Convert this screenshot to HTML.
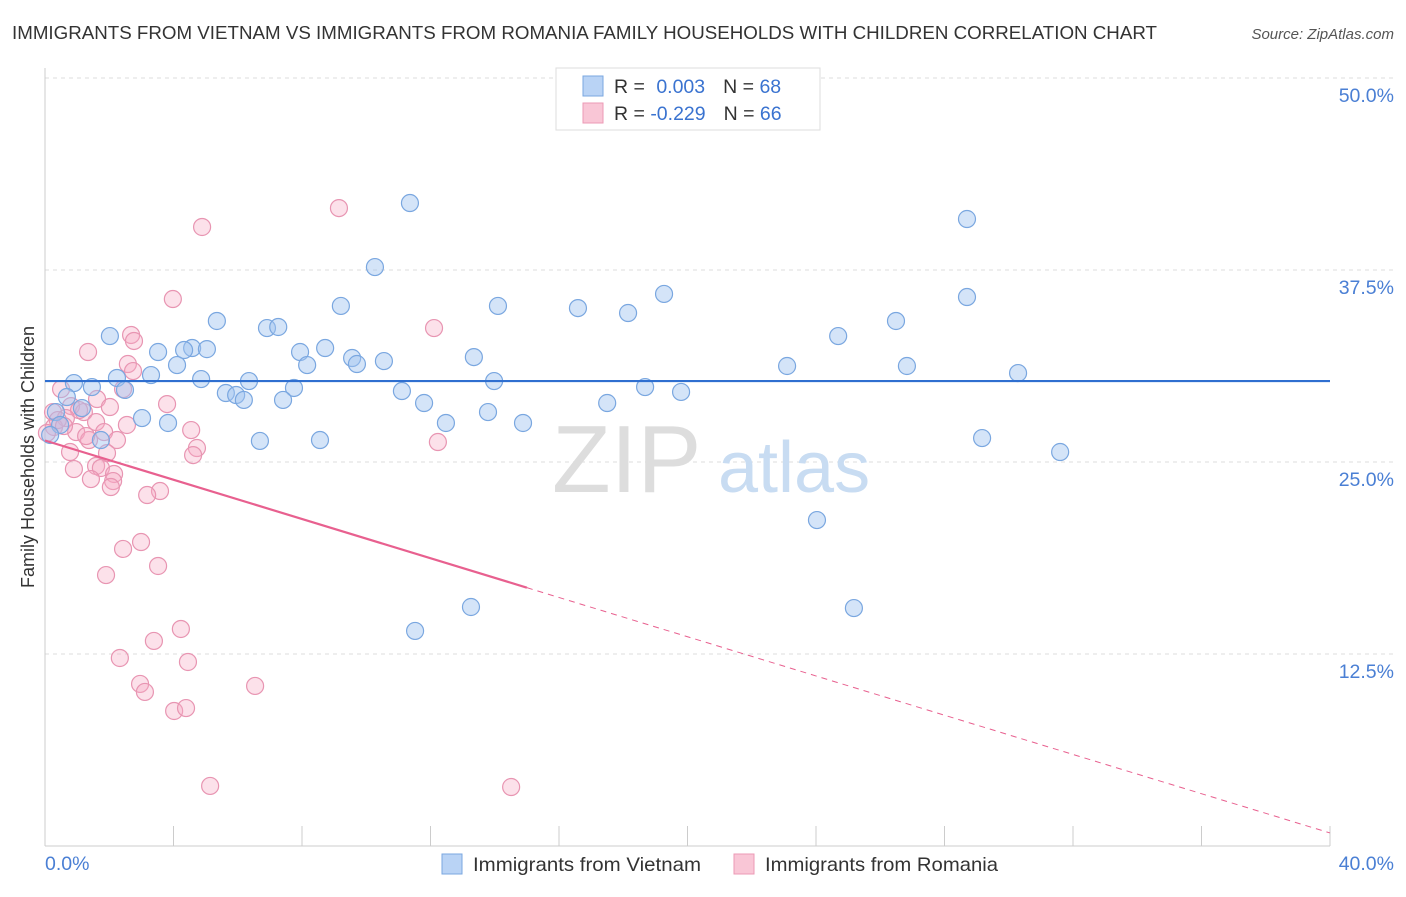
<!DOCTYPE html>
<html><head><meta charset="utf-8">
<style>
body{margin:0;background:#fff;font-family:"Liberation Sans",sans-serif;}
svg text{font-family:"Liberation Sans",sans-serif;}
</style></head>
<body>
<svg id="chart" width="1406" height="892" xmlns="http://www.w3.org/2000/svg">
<text x="12" y="39" font-size="18.5" textLength="1145" lengthAdjust="spacingAndGlyphs" fill="#333">IMMIGRANTS FROM VIETNAM VS IMMIGRANTS FROM ROMANIA FAMILY HOUSEHOLDS WITH CHILDREN CORRELATION CHART</text>
<text x="1394" y="39" font-size="15" fill="#555" font-style="italic" text-anchor="end">Source: ZipAtlas.com</text>
<g id="grid"></g>
<g>
<text x="552" y="492" font-size="96" font-family="Liberation Serif" fill="#ddd">ZIP</text>
<text x="718" y="492" font-size="72" fill="#c8dcf2">atlas</text>
</g>
<line x1="45" y1="68" x2="45" y2="846" stroke="#ccc"/>
<line x1="45" y1="846" x2="1330" y2="846" stroke="#ccc"/>
<g id="xticks"></g>
<g id="yticks"></g>
<text x="45" y="870" font-size="19.5" fill="#4a7fd4">0.0%</text>
<text x="1394" y="870" font-size="19.5" fill="#4a7fd4" text-anchor="end">40.0%</text>
<text transform="translate(34,457) rotate(-90)" font-size="18" fill="#333" text-anchor="middle">Family Households with Children</text>
<g id="pink"></g>
<g id="blue"></g>
<g id="trends"></g>
<g>
<rect x="556" y="68" width="264" height="62" fill="#fff" stroke="#ddd"/>
<rect x="583" y="76" width="20" height="20" fill="#b9d3f5" stroke="#7aa7e0"/>
<rect x="583" y="103" width="20" height="20" fill="#f9c6d6" stroke="#ec9ab5"/>
<text x="614" y="93" font-size="19.5" fill="#333">R = <tspan fill="#3a73d0" dx="6">0.003</tspan><tspan dx="18" fill="#333">N = </tspan><tspan fill="#3a73d0">68</tspan></text>
<text x="614" y="120" font-size="19.5" fill="#333">R = <tspan fill="#3a73d0" dx="0">-0.229</tspan><tspan dx="18" fill="#333">N = </tspan><tspan fill="#3a73d0">66</tspan></text>
</g>
<g>
<rect x="442" y="854" width="20" height="20" fill="#b9d3f5" stroke="#7aa7e0"/>
<text x="473" y="871" font-size="19.5" textLength="228" lengthAdjust="spacingAndGlyphs" fill="#333">Immigrants from Vietnam</text>
<rect x="734" y="854" width="20" height="20" fill="#f9c6d6" stroke="#ec9ab5"/>
<text x="765" y="871" font-size="19.5" textLength="233" lengthAdjust="spacingAndGlyphs" fill="#333">Immigrants from Romania</text>
</g>
</svg>
<script>
const yTicks=[12.5,25,37.5,50];
const yTickLabels=["12.5%","25.0%","37.5%","50.0%"];
const xTickValues=[0,4,8,12,16,20,24,28,32,36,40];
const vietnamX=[11.36,28.70,10.27,19.27,28.70,9.21,14.10,16.59,18.15,5.35,26.49,2.02,6.91,7.26,24.69,3.52,4.58,5.04,4.33,8.72,7.94,9.56,9.71,10.55,13.35,8.16,4.11,23.10,26.83,3.30,2.24,4.86,6.35,30.29,0.90,1.46,2.49,13.98,18.68,19.80,7.75,5.63,5.95,6.19,7.41,11.11,11.80,17.50,13.79,0.68,1.15,0.34,3.02,3.83,12.48,14.88,1.74,6.69,8.56,29.17,31.60,24.03,13.26,25.18,11.52,0.47,0.16];
const vietnamY=[41.86,40.82,37.69,35.94,35.74,35.16,35.16,35.02,34.70,34.18,34.18,33.20,33.72,33.79,33.20,32.16,32.42,32.35,32.29,32.42,32.16,31.77,31.38,31.57,31.83,31.31,31.31,31.25,31.25,30.66,30.47,30.40,30.27,30.79,30.14,29.88,29.69,30.27,29.88,29.56,29.82,29.49,29.36,29.04,29.04,29.62,28.84,28.84,28.25,29.23,28.51,28.25,27.86,27.54,27.54,27.54,26.43,26.37,26.43,26.56,25.65,21.22,15.56,15.49,14.00,27.41,26.76];
const romaniaX=[9.15,4.89,3.98,12.11,2.68,2.77,1.34,2.58,2.74,2.43,0.50,1.62,0.81,2.02,3.80,1.21,1.06,0.25,0.65,1.59,2.55,0.28,0.97,1.84,4.55,0.06,2.24,1.37,1.28,12.23,4.73,0.78,1.93,4.61,1.59,1.74,0.90,2.15,1.43,2.12,2.05,3.58,3.18,2.99,2.43,3.52,1.90,3.39,4.23,2.33,4.45,6.54,2.96,3.11,4.02,4.39,5.14,14.51,0.40,0.59];
const romaniaY=[41.53,40.30,35.61,33.72,33.27,32.88,32.16,31.38,30.92,29.75,29.75,29.10,28.64,28.58,28.77,28.25,28.38,28.25,27.86,27.60,27.41,27.28,26.95,26.95,27.08,26.89,26.43,26.43,26.69,26.30,25.91,25.65,25.58,25.45,24.74,24.61,24.54,24.22,23.89,23.76,23.37,23.11,22.85,19.79,19.34,18.23,17.64,13.35,14.13,12.24,11.98,10.42,10.55,10.03,8.79,8.98,3.91,3.84,27.73,27.34];
const vietnamTrend=[30.27,30.27];
const romaniaTrend=[26.4,0.85];
const romaniaSolidEnd=15.0;

const NS="http://www.w3.org/2000/svg";
const X=v=>45+v/40*1285;
const Y=v=>846-v/12.5*192;
function mk(tag,attrs,parent){const e=document.createElementNS(NS,tag);for(const k in attrs)e.setAttribute(k,attrs[k]);parent.appendChild(e);return e;}
const grid=document.getElementById('grid'),yt=document.getElementById('yticks'),xt=document.getElementById('xticks');
yTicks.forEach((t,i)=>{
  const l=mk('line',{x1:45,x2:1394,y1:Y(t),y2:Y(t),stroke:'#ddd','stroke-dasharray':'4,4'},grid);
  
  
  const tx=mk('text',{x:1394,y:Y(t)+24,'font-size':19.5,fill:'#4a7fd4','text-anchor':'end'},yt);
  tx.textContent=yTickLabels[i];
  
  
});
xTickValues.forEach(v=>{
  const l=mk('line',{x1:X(v),x2:X(v),y1:826,y2:846,stroke:'#ccc'},xt);
  
  
});
function dots(xs,ys,g,fill,stroke,name){
  xs.forEach((x,i)=>{
    const c=mk('circle',{cx:X(x),cy:Y(ys[i]),r:8.5,fill:fill,stroke:stroke,'stroke-width':1.2},g);
    
    
  });
}
dots(romaniaX,romaniaY,document.getElementById('pink'),'rgba(245,170,195,0.35)','#e895b2','romania-point');
dots(vietnamX,vietnamY,document.getElementById('blue'),'rgba(160,196,240,0.45)','#7aa7e0','vietnam-point');
const tr=document.getElementById('trends');
const bl=mk('line',{x1:X(0),x2:X(40),y1:Y(vietnamTrend[0]),y2:Y(vietnamTrend[1]),stroke:'#2f6fd0','stroke-width':2.2},tr);


const slope=(romaniaTrend[1]-romaniaTrend[0])/40;
const py=x=>romaniaTrend[0]+slope*x;
const pl=mk('line',{x1:X(0),x2:X(romaniaSolidEnd),y1:Y(py(0)),y2:Y(py(romaniaSolidEnd)),stroke:'#e8608f','stroke-width':2.2},tr);


const pd=mk('line',{x1:X(romaniaSolidEnd),x2:X(40),y1:Y(py(romaniaSolidEnd)),y2:Y(py(40)),stroke:'#e8608f','stroke-width':1,'stroke-dasharray':'6,5'},tr);


</script>
</body></html>
